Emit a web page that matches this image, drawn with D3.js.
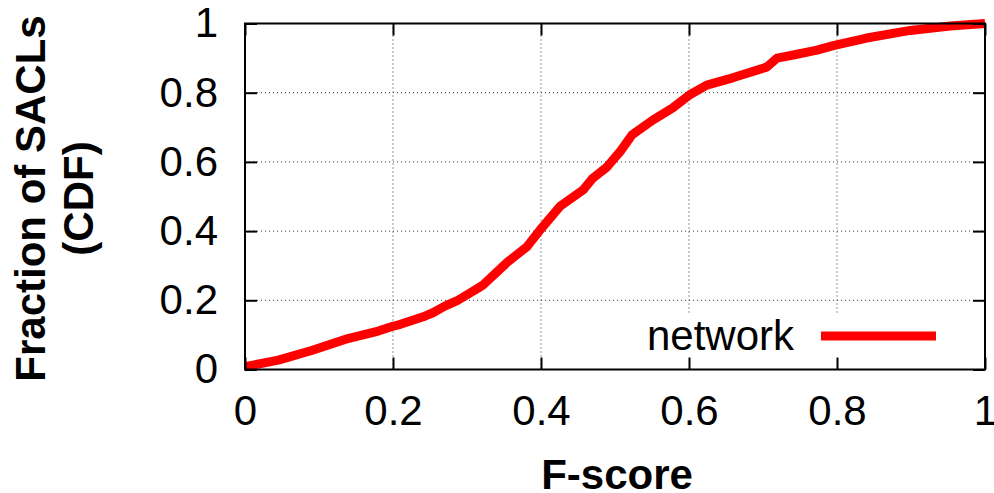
<!DOCTYPE html>
<html><head><meta charset="utf-8">
<script src="https://cdn.jsdelivr.net/npm/d3@7"></script>
<style>
html,body{margin:0;padding:0;background:#fff;}
svg{display:block;}
text{font-family:"Liberation Sans",Arial,Helvetica,sans-serif;}
</style></head>
<body>
<svg id="chart" width="994" height="493"></svg>
<script>
// ---- data ----
const fscore = [0, 0.045, 0.09, 0.135, 0.18, 0.2, 0.209, 0.243, 0.254, 0.27, 0.286, 0.315, 0.322, 0.354, 0.381, 0.399, 0.426, 0.457, 0.47, 0.489, 0.497, 0.507, 0.523, 0.551, 0.578, 0.601, 0.624, 0.659, 0.705, 0.719, 0.741, 0.773, 0.795, 0.84, 0.899, 0.953, 1.0];
const cdf    = [0.008, 0.027, 0.055, 0.087, 0.111, 0.125, 0.13, 0.154, 0.164, 0.183, 0.198, 0.235, 0.245, 0.309, 0.355, 0.404, 0.472, 0.519, 0.553, 0.585, 0.605, 0.63, 0.678, 0.721, 0.756, 0.794, 0.822, 0.843, 0.874, 0.9, 0.909, 0.923, 0.936, 0.958, 0.98, 0.993, 1.0];
const seriesName = "network";
const xTicks = [0, 0.2, 0.4, 0.6, 0.8, 1];
const yTicks = [0, 0.2, 0.4, 0.6, 0.8, 1];
const xTitle = "F-score";
const yTitleLines = ["Fraction of SACLs", "(CDF)"];

// ---- layout ----
const svg = d3.select("#chart");
const L = 245, T = 23.5, R = 985, B = 369.5;
const x = d3.scaleLinear().domain([0, 1]).range([L, R]);
const y = d3.scaleLinear().domain([0, 1]).range([B, T]);
const fmt = d => d === 0 ? "0" : (d === 1 ? "1" : d3.format(".1f")(d));
const tickLen = 12;
const FS = 42;

// grid
const grid = svg.append("g");
xTicks.filter(d => d > 0 && d < 1).forEach(d => {
  grid.append("line").attr("x1", x(d)).attr("x2", x(d)).attr("y1", T).attr("y2", B)
    .attr("stroke", "#333").attr("stroke-width", 1).attr("stroke-dasharray", "1,3");
});
yTicks.filter(d => d > 0 && d < 1).forEach(d => {
  grid.append("line").attr("x1", L).attr("x2", R).attr("y1", y(d)).attr("y2", y(d))
    .attr("stroke", "#333").attr("stroke-width", 1).attr("stroke-dasharray", "1,3");
});

// curve
const pts = fscore.map((v, i) => [v, cdf[i]]);
svg.append("path").datum(pts)
  .attr("d", d3.line().x(d => x(d[0])).y(d => y(d[1])))
  .attr("fill", "none").attr("stroke", "#ff0000").attr("stroke-width", 9)
  .attr("stroke-linejoin", "round").attr("stroke-linecap", "butt");

// legend (opaque box)
svg.append("rect").attr("x", 630).attr("y", 315).attr("width", 325).attr("height", B - 315)
  .attr("fill", "#fff");
svg.append("text").attr("x", 794).attr("y", 350).attr("text-anchor", "end")
  .attr("font-size", FS).attr("fill", "#000").text(seriesName);
svg.append("line").attr("x1", 821).attr("x2", 936).attr("y1", 336).attr("y2", 336)
  .attr("stroke", "#ff0000").attr("stroke-width", 9);

// axes with inward ticks + mirrored
const axB = d3.axisBottom(x).tickValues(xTicks).tickSizeInner(-tickLen).tickSizeOuter(0).tickPadding(26).tickFormat(fmt);
const axT = d3.axisTop(x).tickValues(xTicks).tickSizeInner(-tickLen).tickSizeOuter(0).tickFormat("");
const axL = d3.axisLeft(y).tickValues(yTicks).tickSizeInner(-tickLen).tickSizeOuter(0).tickPadding(27).tickFormat(fmt);
const axR = d3.axisRight(y).tickValues(yTicks).tickSizeInner(-tickLen).tickSizeOuter(0).tickFormat("");

function style(g) {
  g.select(".domain").remove();
  g.selectAll(".tick line").attr("stroke", "#000").attr("stroke-width", 2);
  g.selectAll("text").attr("font-size", FS).attr("fill", "#000")
    .attr("font-family", "'Liberation Sans',Arial,Helvetica,sans-serif");
}
svg.append("g").attr("transform", `translate(0,${B})`).call(axB).call(style)
  .selectAll("text").attr("dy", "0.71em");
svg.append("g").attr("transform", `translate(0,${T})`).call(axT).call(style);
svg.append("g").attr("transform", `translate(${L},0)`).call(axL).call(style);
svg.append("g").attr("transform", `translate(${R},0)`).call(axR).call(style);

// border
svg.append("rect").attr("x", L).attr("y", T).attr("width", R - L).attr("height", B - T)
  .attr("fill", "none").attr("stroke", "#000").attr("stroke-width", 2);

// titles
svg.append("text").attr("x", 617).attr("y", 489).attr("text-anchor", "middle")
  .attr("font-size", FS).attr("font-weight", "bold").attr("fill", "#000").text(xTitle);
const yt = svg.append("text").attr("transform", `translate(45,${(T + B) / 2 + 2}) rotate(-90)`)
  .attr("text-anchor", "middle").attr("font-size", FS).attr("font-weight", "bold").attr("fill", "#000");
yTitleLines.forEach((s, i) => {
  yt.append("tspan").attr("x", 0).attr("dy", i === 0 ? 0 : 48).text(s);
});
</script>
</body></html>
